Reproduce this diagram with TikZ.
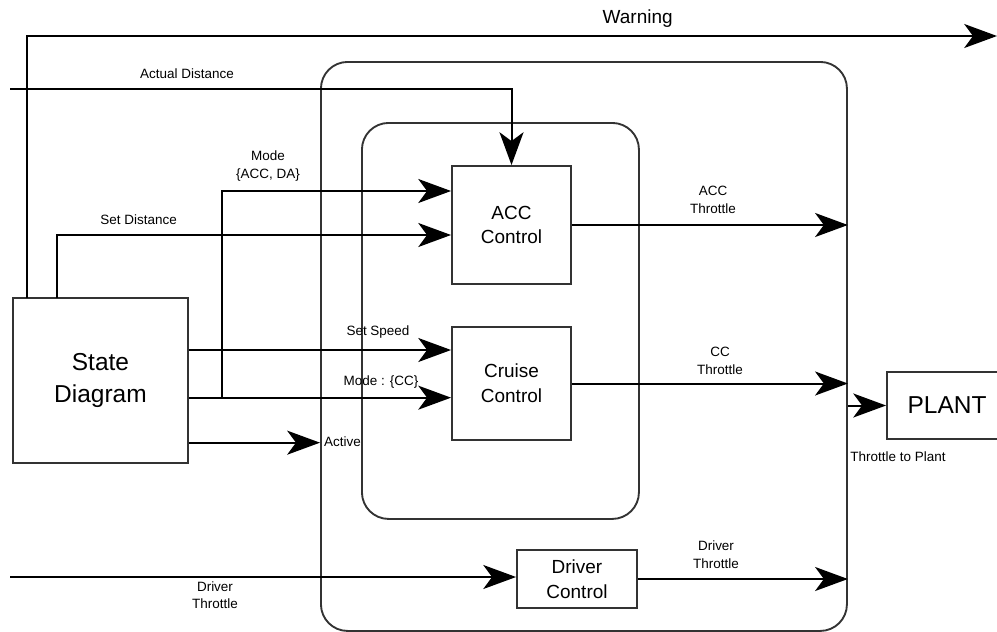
\documentclass[tikz,border=0pt]{standalone}
\usepackage{fontspec}
\setmainfont{Liberation Sans}
\usetikzlibrary{calc,arrows.meta}
\definecolor{boxGray}{RGB}{51,51,51}

\tikzset{
  blockbox/.style={draw=boxGray,line width=1.6pt,minimum width=3.57cm,inner sep=2pt,align=center,font=\fontsize{16.2}{21}\selectfont},
  groupframe/.style={rounded corners=0.8cm,draw=boxGray,line width=1.6pt,anchor=north west},
  sig/.style={line width=1.7pt,-{Stealth[length=28pt,width=20.5pt,inset=7.5pt]}},
  lbl/.style={align=center,font=\fontsize{11.5}{15}\selectfont,inner sep=0pt},
}

\begin{document}
\begin{tikzpicture}[x=1cm,y=1cm]
\path[use as bounding box] (0,0) rectangle (29.91,-18.93);

% frames
\node[groupframe,minimum width=15.78cm,minimum height=17.07cm] (outerBox) at (9.60,-1.83) {};
\node[groupframe,minimum width=8.31cm,minimum height=11.88cm] (innerBox) at (10.83,-3.66) {};

% blocks
\node[blockbox,minimum height=3.54cm] (accCtrl) at (15.345,-6.75) {ACC\\Control};
\node[blockbox,minimum height=3.39cm] (cruiseCtrl) at (15.345,-11.505) {Cruise\\Control};
\node[blockbox,minimum width=3.6cm,minimum height=1.74cm] (driverCtrl) at (17.31,-17.37) {Driver\\Control};
\node[blockbox,minimum width=5.25cm,minimum height=4.95cm,font=\fontsize{20.9}{27}\selectfont] (stateDiag) at (3.015,-11.415) {State\\Diagram};
\node[blockbox,minimum width=3.6cm,minimum height=2.01cm,font=\fontsize{20.9}{27}\selectfont] (plant) at (28.41,-12.165) {PLANT};

% free ends and levels
\coordinate (warnFoot) at (0.81,-8.94);
\coordinate (warnOut) at (29.91,-1.08);
\coordinate (setDistFoot) at (1.71,-8.94);
\coordinate (setDistY) at (0,-7.05);
\coordinate (modeY) at (0,-5.73);
\coordinate (modeX) at (6.66,0);
\coordinate (actDistIn) at (0.30,-2.67);
\coordinate (speedY) at (0,-10.50);
\coordinate (ccModeY) at (0,-11.93);
\coordinate (activeY) at (0,-13.28);
\coordinate (drvIn) at (0.30,-17.31);

% signals
\draw[sig] (warnFoot) |- (warnOut);
\draw[sig] (setDistFoot) |- (accCtrl.west |- setDistY);
\draw[sig] (actDistIn) -| (accCtrl.north);
\draw[sig] (stateDiag.east |- speedY) -- (cruiseCtrl.west |- speedY);
\draw[sig] (stateDiag.east |- ccModeY) -- (cruiseCtrl.west |- ccModeY);
\draw[sig] (modeX |- ccModeY) |- (accCtrl.west |- modeY);
\draw[sig] (stateDiag.east |- activeY) -- (outerBox.west |- activeY);
\draw[sig] (accCtrl.east) -- (accCtrl.east -| outerBox.east);
\draw[sig] (cruiseCtrl.east) -- (cruiseCtrl.east -| outerBox.east);
\draw[sig] (drvIn) -- (driverCtrl.west |- drvIn);
\draw[sig] (driverCtrl.east) -- (driverCtrl.east -| outerBox.east);
\draw[sig] (outerBox.east |- plant.west) -- (plant.west);

% labels
\node[lbl,font=\fontsize{16.2}{19}\selectfont] (warnLbl) at (19.13,-0.57) {Warning};
\node[lbl] (actDistLbl) at (5.61,-2.22) {Actual Distance};
\node[lbl] (modeAccLbl) at (8.04,-4.98) {Mode\\\{ACC, DA\}};
\node[lbl] (setDistLbl) at (4.16,-6.59) {Set Distance};
\node[lbl] (setSpdLbl) at (11.34,-9.96) {Set Speed};
\node[lbl] (modeCcLbl) at (11.43,-11.46) {Mode : \{CC\}};
\node[lbl,anchor=west] (activeLbl) at (9.72,-13.26) {Active};
\node[lbl] (accThrLbl) at (21.39,-5.99) {ACC\\Throttle};
\node[lbl] (ccThrLbl) at (21.6,-10.83) {CC\\Throttle};
\node[lbl] (drvThrOutLbl) at (21.48,-16.64) {Driver\\Throttle};
\node[lbl] (drvThrInLbl) at (6.45,-17.85) {Driver\\Throttle};
\node[lbl] (plantLbl) at (26.94,-13.70) {Throttle to Plant};
\end{tikzpicture}
\end{document}
